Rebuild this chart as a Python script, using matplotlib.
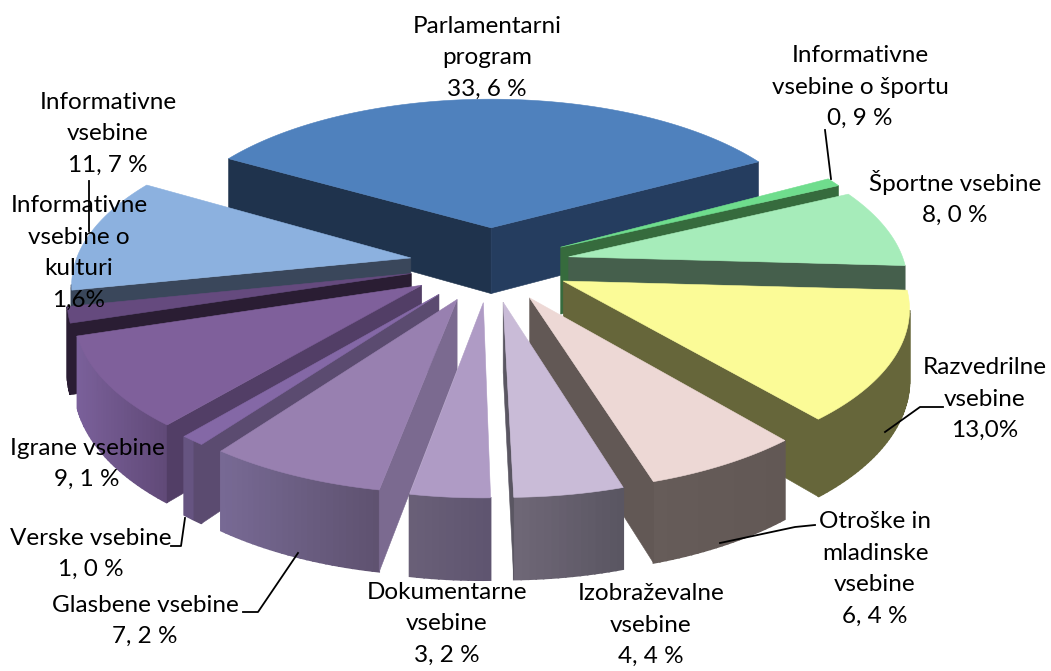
from matplotlib import pyplot as plt
import numpy as np

# slice names and shares, clockwise starting from the big blue one
names = ['Parlamentarni program', 'Informativne vsebine o športu', 'Športne vsebine', 'Razvedrilne vsebine',
         'Otroške in mladinske vsebine', 'Izobraževalne vsebine', 'Dokumentarne vsebine', 'Glasbene vsebine',
         'Verske vsebine', 'Igrane vsebine', 'Informativne vsebine o kulturi', 'Informativne vsebine']
shares = [33.6, 0.9, 8.0, 13.0, 6.4, 4.4, 3.2, 7.2, 1.0, 9.1, 1.6, 11.7]
labels = ['Parlamentarni\nprogram\n33, 6 %', 'Informativne\nvsebine o športu\n0, 9 %', 'Športne vsebine\n8, 0 %',
          'Razvedrilne\nvsebine\n13,0%', 'Otroške in\nmladinske\nvsebine\n6, 4 %', 'Izobraževalne\nvsebine\n4, 4 %',
          'Dokumentarne\nvsebine\n3, 2 %', 'Glasbene vsebine\n7, 2 %', 'Verske vsebine\n1, 0 %', 'Igrane vsebine\n9, 1 %',
          'Informativne\nvsebine o\nkulturi\n1,6%', 'Informativne\nvsebine\n11, 7 %']

# colours: top face, cut faces, outer wall left to right
tops = ['#4F81BD', '#6FDD8D', '#A6ECBA', '#FBFB97', '#EDD8D5', '#C9BBD7', '#AF9BC5', '#9880B0', '#8468A6', '#7F609B', '#654A7E', '#8CB1DF']
cuts_l = ['#253D5F', '#366B3D', '#455F4C', '#66663A', '#625855', '#5A5662', '#6A6078', '#7B6A90', '#6B5A88', '#614A78', '#2A1D33', '#3A475B']
cuts_r = ['#1F334D', '#366B3D', '#455F4C', '#66663A', '#625855', '#5A5662', '#5F5570', '#7B6A90', '#5B4B70', '#523E66', '#2A1D33', '#3A475B']
wall_l = ['#1F334D', '#366B3D', '#455F4C', '#66663A', '#665C59', '#706878', '#6A6078', '#786A95', '#705C92', '#7A609A', '#2A1D33', '#3A475B']
wall_r = ['#253D5F', '#366B3D', '#455F4C', '#66663A', '#625855', '#5A5662', '#5F5570', '#5F5270', '#5B4B70', '#614A78', '#2A1D33', '#3A475B']

# where the labels sit
label_pos = [(487, 58), (860, 87), (955, 198), (985, 399), (875, 569), (651, 625),
             (447, 624), (145, 621), (91, 554), (87, 464), (79, 253), (108, 134)]
leaders = [[(825, 130), (831, 179)],
           [(943, 407), (920, 407), (885, 432)],
           [(815, 525), (795, 527), (720, 543)],
           [(185, 518), (181, 546), (171, 546)],
           [(298, 553), (258, 612), (243, 612)],
           [(89, 181), (89, 231)]]

# fake perspective of the tilted pie
cx, cy = 490, 264
A, B, k = 336, 156, 0.14
depth = 68
explode = 0.24
rotation = np.radians(0.8)


def project(u, v):
    w = 1 / (1 + k * v)
    return cx + A * u * w, cy - B * v * w, w


def hex2rgb(c):
    return np.array([int(c[i:i + 2], 16) / 255 for i in (1, 3, 5)])


def quad(p, q, color, lw=0.4):
    xs = [p[0], q[0], q[0], p[0]]
    ys = [p[1], q[1], q[1] + depth * q[2], p[1] + depth * p[2]]
    ax.fill(xs, ys, color=color, lw=lw, zorder=order)


fig = plt.figure(figsize=(10.51, 6.71), dpi=100)
ax = fig.add_axes([0, 0, 1, 1])
ax.set_xlim(0, 1051)
ax.set_ylim(671, 0)
ax.axis('off')

plt.rcParams['font.family'] = ['Lato', 'DejaVu Sans']

fracs = np.array(shares) / sum(shares)
ends = np.cumsum(fracs) * 2 * np.pi - fracs[0] * np.pi + rotation
starts = ends - fracs * 2 * np.pi
mids = (starts + ends) / 2

# back to front
for order, i in enumerate(np.argsort(-np.cos(mids))):
    th = np.linspace(starts[i], ends[i], max(int((ends[i] - starts[i]) * 60), 3))
    ou, ov = explode * np.sin(mids[i]), explode * np.cos(mids[i])
    apex = project(ou, ov)
    rim = [project(ou + np.sin(t), ov + np.cos(t)) for t in th]
    # outer wall, only the pieces facing us
    xs_rim = [p[0] for p in rim]
    for a, b in zip(rim[:-1], rim[1:]):
        if b[0] < a[0]:
            f = (a[0] - min(xs_rim)) / max(max(xs_rim) - min(xs_rim), 1)
            quad(a, b, hex2rgb(wall_l[i]) * (1 - f) + hex2rgb(wall_r[i]) * f, lw=1.2)
    # the two cut faces
    if apex[0] > rim[0][0]:
        quad(apex, rim[0], cuts_r[i])
    if rim[-1][0] > apex[0]:
        quad(rim[-1], apex, cuts_l[i])
    ax.fill([apex[0]] + xs_rim, [apex[1]] + [p[1] for p in rim], color=tops[i], lw=0.4, zorder=order)

for lab, pos in zip(labels, label_pos):
    ax.text(pos[0], pos[1], lab, ha='center', va='center', fontsize=17.5, color='black', linespacing=1.62, zorder=50)

for line in leaders:
    ax.plot([p[0] for p in line], [p[1] for p in line], color='black', lw=1.3, zorder=40)

plt.savefig('out.png', dpi=100)
